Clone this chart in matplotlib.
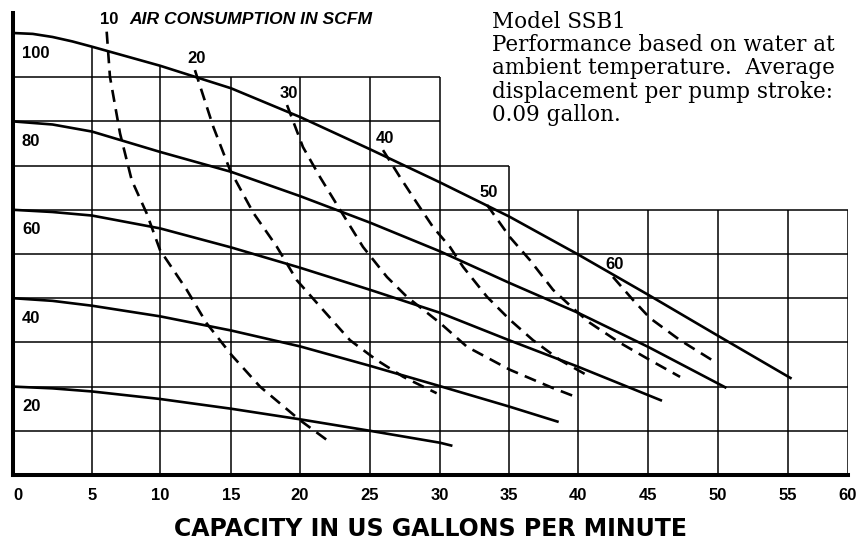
import numpy as np
import matplotlib
matplotlib.use("Agg")
import matplotlib.pyplot as plt

# ---------------- data ----------------
x_ticks = [0, 5, 10, 15, 20, 25, 30, 35, 40, 45, 50, 55, 60]
x_tick_labels = [str(v) for v in x_ticks]
x_label = "CAPACITY IN US GALLONS PER MINUTE"

# printed grid: relative widths of the 5-GPM columns (the original grid is slightly irregular)
col_widths = [79, 68, 71, 69, 70, 70, 69, 69, 70, 70, 70, 60]
# top of the grid (psi) above each 5-GPM column
col_tops = [90, 90, 90, 90, 90, 90, 70, 60, 60, 60, 60, 60]
grid_step_y = 10

# performance curves: air inlet pressure (psi)
air_psi = [100, 80, 60, 40, 20]
curve_100_x = [0, 1.25, 2.5, 3.75, 5, 10, 15, 20, 25, 30, 35, 40, 45, 50, 55.3]
curve_100_y = [100, 99.8, 99.1, 98.1, 96.9, 92.6, 87.5, 81.0, 73.7, 66.2, 58.5, 49.9, 40.8, 31.5, 21.8]
curve_80_x = [0, 2.5, 5, 10, 15, 20, 25, 30, 35, 40, 45, 50.6]
curve_80_y = [80, 79.3, 77.7, 73.1, 68.6, 63.1, 57.1, 50.6, 43.5, 36.7, 29.0, 19.7]
curve_60_x = [0, 2.5, 5, 10, 15, 20, 25, 30, 35, 40, 46.0]
curve_60_y = [60, 59.5, 58.7, 55.8, 51.5, 46.9, 41.9, 36.7, 30.5, 24.5, 16.8]
curve_40_x = [0, 2.5, 5, 10, 15, 20, 25, 30, 35, 38.6]
curve_40_y = [40, 39.4, 38.3, 35.9, 32.7, 29.1, 24.7, 20.1, 15.5, 12.0]
curve_20_x = [0, 2.5, 5, 10, 15, 20, 25, 30, 30.9]
curve_20_y = [20, 19.6, 18.9, 17.2, 15.0, 12.6, 10.0, 7.3, 6.6]

# air consumption curves (SCFM), dashed
scfm = [10, 20, 30, 40, 50, 60]
scfm10_x = [6.08, 6.32, 7.06, 7.92, 9.02, 10.0, 11.88, 13.29, 15.05, 17.10, 20.0, 21.93]
scfm10_y = [100.3, 90.1, 77.3, 66.7, 59.2, 50.9, 41.9, 34.3, 27.1, 20.0, 12.4, 7.9]
scfm20_x = [12.46, 13.75, 14.93, 16.62, 18.31, 19.76, 21.66, 23.57, 25.48, 27.38, 29.76]
scfm20_y = [91.6, 78.8, 69.0, 59.3, 51.7, 44.1, 37.3, 30.5, 26.0, 22.2, 18.5]
scfm30_x = [19.06, 20.21, 21.43, 22.86, 24.5, 26.21, 27.64, 30.0, 31.96, 35.07, 38.16, 39.90]
scfm30_y = [83.7, 74.2, 67.4, 60.0, 51.6, 44.8, 40.3, 34.4, 29.0, 23.8, 19.7, 17.6]
scfm40_x = [25.93, 27.14, 28.36, 29.5, 30.72, 31.67, 33.41, 35.07, 36.74, 38.7, 40.86]
scfm40_y = [73.5, 67.4, 61.5, 56.1, 51.6, 47.1, 40.3, 35.1, 30.5, 26.0, 22.2]
scfm50_x = [33.41, 35.07, 36.52, 38.19, 39.93, 40.86, 43.0, 45.14, 47.29]
scfm50_y = [61.1, 53.8, 48.6, 41.9, 36.9, 34.4, 29.9, 26.0, 22.2]
scfm60_x = [42.5, 43.93, 45.14, 47.29, 49.93]
scfm60_y = [44.8, 39.6, 35.5, 30.5, 25.3]

air_title = "AIR CONSUMPTION IN SCFM"
note = ("Model SSB1\nPerformance based on water at\nambient temperature.  Average\n"
        "displacement per pump stroke:\n0.09 gallon.")

# ---------------- figure ----------------
W, H = 867, 541
fig = plt.figure(figsize=(W / 100, H / 100), dpi=100)
ax = fig.add_axes([13 / W, (H - 475) / H, (848 - 13) / W, (475 - 13) / H])

xt = np.array(x_ticks, float)
cum = np.concatenate([[0], np.cumsum(col_widths)]).astype(float)


def fwd(x):
    x = np.asarray(x, float)
    u = np.interp(x, xt, cum)
    u = np.where(x < xt[0], (x - xt[0]) * col_widths[0] / 5 + cum[0], u)
    u = np.where(x > xt[-1], (x - xt[-1]) * col_widths[-1] / 5 + cum[-1], u)
    return u


def inv(u):
    u = np.asarray(u, float)
    x = np.interp(u, cum, xt)
    x = np.where(u < cum[0], (u - cum[0]) * 5 / col_widths[0] + xt[0], x)
    x = np.where(u > cum[-1], (u - cum[-1]) * 5 / col_widths[-1] + xt[-1], x)
    return x


ax.set_xscale("function", functions=(fwd, inv))
ax.set_xlim(0, 60)
ax.set_ylim(0, (475 - 13) / 4.42)

# ---- stepped grid ----
grid_lw = 1.1
top_curve = np.interp(xt, curve_100_x, curve_100_y)
for i, xv in enumerate(xt[1:], start=1):
    adj = [col_tops[i - 1]] + ([col_tops[i]] if i < len(col_tops) else [])
    top = max(max(adj), top_curve[i])
    ax.plot([xv, xv], [0, top], color="black", lw=grid_lw, zorder=1, solid_capstyle="butt")
for yv in range(grid_step_y, max(col_tops) + 1, grid_step_y):
    k = 0
    while k < len(col_tops) and col_tops[k] >= yv:
        k += 1
    ax.plot([0, xt[k]], [yv, yv], color="black", lw=grid_lw, zorder=1, solid_capstyle="butt")

# ---- curves ----
solid = [(curve_100_x, curve_100_y), (curve_80_x, curve_80_y), (curve_60_x, curve_60_y),
         (curve_40_x, curve_40_y), (curve_20_x, curve_20_y)]
for (cx, cy) in solid:
    ax.plot(cx, cy, color="black", lw=1.9, zorder=3, solid_capstyle="butt",
            solid_joinstyle="round")

dashed = [(scfm10_x, scfm10_y), (scfm20_x, scfm20_y), (scfm30_x, scfm30_y),
          (scfm40_x, scfm40_y), (scfm50_x, scfm50_y), (scfm60_x, scfm60_y)]
for (cx, cy) in dashed:
    ax.plot(cx, cy, color="black", lw=1.9, zorder=3, linestyle=(0, (4.6, 2.8)),
            dash_capstyle="butt")

lab_font = dict(family=["Liberation Sans", "DejaVu Sans"], fontweight="bold", fontsize=12)
for v, cy in zip(air_psi, [c[1] for c in solid]):
    ax.annotate(str(v), xy=(0, cy[0]), xytext=(9, -20), textcoords="offset pixels",
                ha="left", va="center", **lab_font)

for v, (cx, cy) in zip(scfm, dashed):
    ax.annotate(str(v), xy=(cx[0], cy[0]), xytext=(2, 12), textcoords="offset pixels",
                ha="center", va="center", annotation_clip=False, **lab_font)
ax.annotate(air_title, xy=(scfm10_x[0], scfm10_y[0]), xytext=(23, 12),
            textcoords="offset pixels", ha="left", va="center", annotation_clip=False,
            family=["Liberation Sans", "DejaVu Sans"], fontweight="bold",
            fontstyle="italic", fontsize=12.6)

# ---- axes ----
for s in ["top", "right"]:
    ax.spines[s].set_visible(False)
for s in ["left", "bottom"]:
    ax.spines[s].set_linewidth(2.9)
    ax.spines[s].set_zorder(5)
ax.set_yticks([])
ax.set_xticks(x_ticks)
ax.set_xticklabels(x_tick_labels, **lab_font)
ax.get_xticklabels()[0].set_horizontalalignment("left")
ax.tick_params(axis="x", length=0, pad=9)
ax.xaxis.set_minor_locator(matplotlib.ticker.NullLocator())

ax.set_xlabel(x_label, family="DejaVu Sans", fontweight="bold", fontsize=17, va="center")
ax.xaxis.set_label_coords(0.5, -(528.5 - 475) / (475 - 13))

fig.text(492 / W, 1 - 11 / H, note, ha="left", va="top", family="DejaVu Serif",
         fontsize=15.5, linespacing=1.07)

fig.savefig("out.png", dpi=100)
